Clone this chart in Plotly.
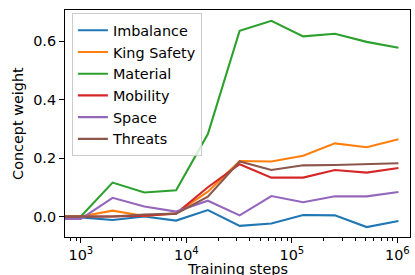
import plotly.graph_objects as go

# Training steps (the first entry stands for step 0, drawn clipped at the far left of the log axis)
steps = [1, 1000, 2000, 4000, 8000, 16000, 32000, 64000, 128000, 256000, 512000, 1024000]

imbalance   = [-0.003, -0.003, -0.012, 0.000, -0.014, 0.022, -0.032, -0.024, 0.005, 0.004, -0.036, -0.015]
king_safety = [0.000, 0.000, 0.020, 0.002, 0.011, 0.085, 0.190, 0.188, 0.208, 0.250, 0.237, 0.264]
material    = [0.000, 0.000, 0.116, 0.082, 0.090, 0.282, 0.635, 0.669, 0.616, 0.625, 0.597, 0.577]
mobility    = [-0.002, -0.002, 0.000, 0.003, 0.010, 0.100, 0.179, 0.133, 0.133, 0.159, 0.150, 0.166]
space       = [-0.008, -0.008, 0.064, 0.034, 0.017, 0.054, 0.004, 0.070, 0.049, 0.069, 0.069, 0.084]
threats     = [0.000, 0.000, 0.000, 0.007, 0.010, 0.068, 0.188, 0.159, 0.175, 0.176, 0.179, 0.182]

names = ["Imbalance", "King Safety", "Material", "Mobility", "Space", "Threats"]
series = [imbalance, king_safety, material, mobility, space, threats]
colors = ["#1f77b4", "#ff7f0e", "#2ca02c", "#d62728", "#9467bd", "#8c564b"]

x_tickvals = [1e3, 1e4, 1e5, 1e6]
x_ticktext = ["10<sup>3</sup>", "10<sup>4</sup>", "10<sup>5</sup>", "10<sup>6</sup>"]
y_tickvals = [0.0, 0.2, 0.4, 0.6]
x_title = "Training steps"
y_title = "Concept weight"

fig = go.Figure()
for name, vals, col in zip(names, series, colors):
    fig.add_trace(go.Scatter(x=steps, y=vals, name=name, mode="lines",
                             line=dict(color=col, width=2.1)))

FS = 14.4
font = dict(family="DejaVu Sans", size=FS, color="black")
fig.update_layout(
    width=415, height=275,
    margin=dict(l=65, r=5, t=10, b=38),
    paper_bgcolor="white", plot_bgcolor="white",
    font=font,
    showlegend=True,
    legend=dict(x=0.02, y=0.985, xanchor="left", yanchor="top",
                bgcolor="rgba(255,255,255,0.8)", bordercolor="#cccccc", borderwidth=1,
                font=font, itemwidth=30, tracegroupgap=0),
    annotations=[
        dict(text=x_title, xref="paper", yref="paper", x=0.5, y=-0.098,
             xanchor="center", yanchor="top", showarrow=False, font=font),
        dict(text=y_title, xref="paper", yref="paper", x=-0.138, y=0.5,
             xanchor="center", yanchor="middle", textangle=-90, showarrow=False, font=font),
    ],
)
fig.update_xaxes(type="log", range=[2.85, 6.12], automargin=False,
                 tickvals=x_tickvals, ticktext=x_ticktext,
                 ticks="outside", ticklen=5, tickcolor="black", tickwidth=1.1,
                 showline=True, mirror=True, linecolor="black", linewidth=1.1,
                 showgrid=False, zeroline=False,
                 minor=dict(dtick="D1", ticks="outside", ticklen=3, tickcolor="black",
                            tickwidth=0.8, showgrid=False))
fig.update_yaxes(range=[-0.070, 0.706], automargin=False,
                 tickvals=y_tickvals, tickformat=".1f",
                 ticks="outside", ticklen=5, tickcolor="black", tickwidth=1.1,
                 showline=True, mirror=True, linecolor="black", linewidth=1.1,
                 showgrid=False, zeroline=False)

fig.write_html("out.html", config={"displayModeBar": False},
               post_script="document.body.style.margin='0';")
